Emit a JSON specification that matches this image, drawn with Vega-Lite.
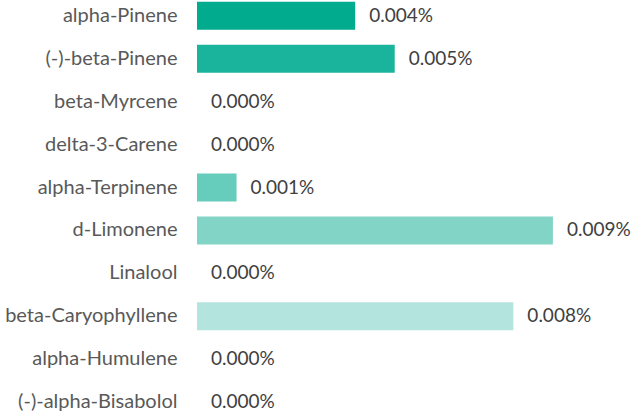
{
  "$schema": "https://vega.github.io/schema/vega-lite/v6.json",
  "autosize": {"type": "none"},
  "padding": {"left": 197, "top": 1, "right": 0, "bottom": 0},
  "width": 435,
  "height": 416,
  "background": "white",
  "config": {"view": {"stroke": null}, "font": "Lato"},
  "data": {"values": [
    {"terpene": "alpha-Pinene", "value": 0.00004},
    {"terpene": "(-)-beta-Pinene", "value": 0.00005},
    {"terpene": "beta-Myrcene", "value": 0},
    {"terpene": "delta-3-Carene", "value": 0},
    {"terpene": "alpha-Terpinene", "value": 0.00001},
    {"terpene": "d-Limonene", "value": 0.00009},
    {"terpene": "Linalool", "value": 0},
    {"terpene": "beta-Caryophyllene", "value": 0.00008},
    {"terpene": "alpha-Humulene", "value": 0},
    {"terpene": "(-)-alpha-Bisabolol", "value": 0}
  ]},
  "encoding": {
    "y": {
      "field": "terpene", "type": "nominal", "sort": null,
      "scale": {"paddingInner": 0.35, "paddingOuter": 0.02},
      "axis": {"title": null, "domain": false, "ticks": false, "labelPadding": 20, "labelFontSize": 20, "labelColor": "#595959", "labelFont": "Lato"}
    },
    "x": {
      "field": "value", "type": "quantitative",
      "scale": {"domain": [0, 0.00011], "nice": false, "zero": true},
      "axis": null
    }
  },
  "layer": [
    {
      "mark": {"type": "bar"},
      "encoding": {
        "color": {
          "field": "terpene", "type": "nominal", "legend": null,
          "scale": {
            "domain": ["alpha-Pinene", "(-)-beta-Pinene", "beta-Myrcene", "delta-3-Carene", "alpha-Terpinene", "d-Limonene", "Linalool", "beta-Caryophyllene", "alpha-Humulene", "(-)-alpha-Bisabolol"],
            "range": ["#00AB8E", "#1AB39C", "#33BCA5", "#4DC4AF", "#66CDBC", "#82D4C6", "#99DDD1", "#B3E5DE", "#CCEEE8", "#E6F6F4"]
          }
        }
      }
    },
    {
      "mark": {"type": "text", "align": "left", "baseline": "middle", "dx": 14, "fontSize": 19, "color": "#404040", "font": "Lato"},
      "encoding": {
        "text": {"field": "value", "type": "quantitative", "format": ".3%"}
      }
    }
  ]
}
